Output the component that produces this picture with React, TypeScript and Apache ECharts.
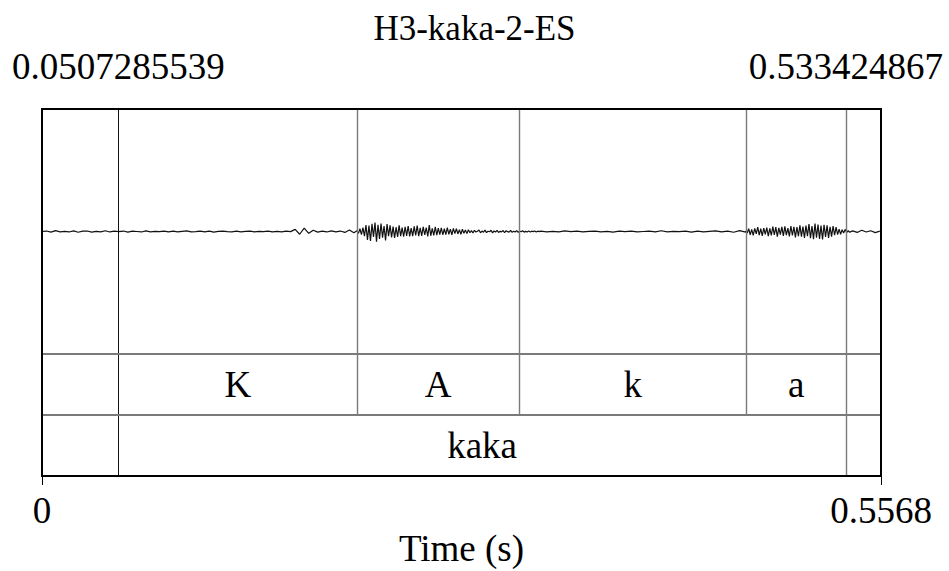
import React, { useEffect, useRef } from "react";
import * as echarts from "echarts";

// Time domain of the recording (s)
const TIME_MAX = 0.5568;
const SEL_START = 0.0507285539;
const SEL_END = 0.533424867;

// Phone tier (tier 1) and word tier (tier 2)
const phoneEdges = [SEL_START, 0.2094, 0.3165, 0.4675, SEL_END];
const phoneLabels = ["K", "A", "k", "a"];
const wordEdges = [SEL_START, SEL_END];
const wordLabels = ["kaka"];

// Waveform samples, amplitude in thousandths, grouped by stretch of signal
const waveClosure1 = [
  0, 3, -4, 6, -2, 1, -3, 4, -5, 2,
  3, -4, 1, -2, 5, -3, 2, -1, 3, -4,
  2, 0, -3, 4, -2, 1, -1, 3, -2, 2,
  -3, 1, 4, -2, -1, 3, -2, 2, -4, 1,
  3, -1, -2, 2, -3, 1, 2, -2, 1, -1,
  3, -2, 1, -3, 2, -1, 14, -18, 22, -12,
  8, -4, 2, -3, 4, -2, 3, -6, 10, -8,
];
const waveVowel1 = [
  5, -12, 18, -20, 26, -30,
  42, -55, 38, -62, 50, -35, 58, -66, 44, -48, 52, -40, 36, -58, 48, -30, 40,
  -38, 32, -42, 28, -36, 40, -30, 25, -34, 30, -28, 36, -32, 22, -30, 34, -26,
  38, -30, 24, -28, 30, -22, 26, -32, 42, -28, 20, -26, 30, -24, 22, -20,
  24, -22, 18, -20, 26, -18, 16, -22, 20, -14, 18, -16, 12, -18, 15, -12, 10,
  -14, 12, -8,
  6, -10, 8, -4, 2, 10, -8, 3, -5, 9, -7, 2, -2, 8, -9, 4, -3, 7, -6, 1, -2, 6,
  -8, 5, -1, -4, 7, -5, 2, -3, 6, -6, 3, -2, 5, -4, 1, -3, 4, -4, 2, -1, 3, -3,
  2, -1,
];
const waveClosure2 = [
  2, -3, 1, -2, 4, -1, 2, -3, 1, 3, -2, 1, -4, 2, -1, 3, -2, 0, 2, -3, 5, -2,
  1, -1, 3, -4, 2, -2, 1, 4, -3, 2, -5, 6, -4,
];
const waveVowel2 = [
  4, -10, 18, -22, 14, -26, 20, -16, 28, -24, 18, -28, 22, -18,
  26, -30, 20, -26, 32, -22, 28, -34, 24, -20, 30, -28, 34, -24, 22, -32, 36,
  -26, 30, -38, 28, -30, 40, -34, 32,
  -42, 38, -30, 48, -44, 36, -50, 52, -40, 46, -48, 38, -52, 44, -36, 40, -42,
  30, -34, 36,
  -24, 28, -20, 16, -18, 12, -10, 14, -8, 6, -5,
];
const waveTail = [4, -6, 8, -3, 5, -7, 2];

// [start time, sampling step, samples]
const waveSegments: [number, number, number[]][] = [
  [0.0, 0.003, waveClosure1],
  [0.209, 0.001, waveVowel1],
  [0.331, 0.004, waveClosure2],
  [0.467, 0.001, waveVowel2],
  [0.538, 0.003, waveTail],
];

const FONT = "Liberation Serif";
const GRID_LEFT = 42;
const GRID_WIDTH = 839;

function App() {
  const ref = useRef<HTMLDivElement>(null);

  useEffect(() => {
    document.body.style.margin = "0";
    if (!ref.current) return;
    const chart = echarts.init(ref.current, null, { renderer: "svg" });

    const wave: [number, number][] = [];
    waveSegments.forEach(([t0, step, vals]) => {
      vals.forEach((v, i) => wave.push([t0 + i * step, v / 1000]));
    });

    const grey = { color: "#7a7a7a", width: 1.4, type: "solid" as const };
    const dark = { color: "#111", width: 1, type: "solid" as const };
    const tierRule = { color: "#7a7a7a", width: 1.8, type: "solid" as const };

    const vLine = (t: number, y0: number, y1: number, style: any) => [
      { coord: [t, y0], lineStyle: style },
      { coord: [t, y1] },
    ];

    // boundaries that reach up through the sound
    const fullBounds = [SEL_START, ...phoneEdges.slice(1, -1), SEL_END];
    const soundLines = fullBounds.map((t) =>
      vLine(t, -0.8, 0.8, t === SEL_START ? dark : grey)
    );

    const tierLines: any[] = [
      vLine(SEL_START, 0, 2, dark),
      vLine(SEL_END, 0, 2, grey),
      ...phoneEdges.slice(1, -1).map((t) => vLine(t, 1, 2, grey)),
      [{ coord: [0, 1], lineStyle: tierRule }, { coord: [TIME_MAX, 1] }],
      [{ coord: [0, 2], lineStyle: tierRule }, { coord: [TIME_MAX, 2] }],
    ];

    const tierText: [number, number, string][] = [];
    phoneLabels.forEach((lab, i) =>
      tierText.push([(phoneEdges[i] + phoneEdges[i + 1]) / 2, 1.5, lab])
    );
    wordLabels.forEach((lab, i) =>
      tierText.push([(wordEdges[i] + wordEdges[i + 1]) / 2, 0.5, lab])
    );

    const labelFmt = (v: number) => String(v);

    chart.setOption({
      animation: false,
      backgroundColor: "#fff",
      title: {
        text: "H3-kaka-2-ES",
        left: "center",
        top: 6,
        textStyle: {
          fontFamily: FONT,
          fontSize: 35,
          fontWeight: "normal",
          color: "#000",
        },
      },
      grid: [
        { left: GRID_LEFT, width: GRID_WIDTH, top: 109, height: 245 },
        { left: GRID_LEFT, width: GRID_WIDTH, top: 354, height: 122 },
        {
          left: GRID_LEFT,
          width: GRID_WIDTH,
          top: 109,
          height: 367,
          show: true,
          borderColor: "#000",
          borderWidth: 2,
          backgroundColor: "transparent",
          z: 10,
        },
      ],
      xAxis: [
        {
          type: "value",
          gridIndex: 0,
          position: "top",
          min: 0,
          max: TIME_MAX,
          axisLine: { show: false },
          splitLine: { show: false },
          axisTick: {
            show: true,
            length: 10,
            customValues: [SEL_START, SEL_END],
            lineStyle: { color: "#000", width: 1 },
          },
          axisLabel: {
            show: true,
            customValues: [SEL_START, SEL_END],
            formatter: labelFmt,
            margin: 24,
            fontFamily: FONT,
            fontSize: 37,
            color: "#000",
          },
        },
        {
          type: "value",
          gridIndex: 1,
          position: "bottom",
          min: 0,
          max: TIME_MAX,
          axisLine: { show: false },
          splitLine: { show: false },
          axisTick: {
            show: true,
            length: 9,
            customValues: [0, TIME_MAX],
            lineStyle: { color: "#000", width: 1 },
          },
          axisLabel: {
            show: true,
            customValues: [0, TIME_MAX],
            formatter: labelFmt,
            margin: 16,
            fontFamily: FONT,
            fontSize: 37,
            color: "#000",
          },
          name: "Time (s)",
          nameLocation: "middle",
          nameGap: 54,
          nameTextStyle: { fontFamily: FONT, fontSize: 37, color: "#000" },
        },
        { type: "value", gridIndex: 2, min: 0, max: TIME_MAX, show: false },
      ],
      yAxis: [
        { type: "value", gridIndex: 0, min: -0.8, max: 0.8, show: false },
        { type: "value", gridIndex: 1, min: 0, max: 2, show: false },
        { type: "value", gridIndex: 2, min: 0, max: 1, show: false },
      ],
      series: [
        {
          type: "line",
          xAxisIndex: 0,
          yAxisIndex: 0,
          data: wave,
          showSymbol: false,
          silent: true,
          lineStyle: { color: "#111", width: 1.2 },
          markLine: {
            silent: true,
            symbol: ["none", "none"],
            label: { show: false },
            lineStyle: { type: "solid" },
            data: soundLines,
          },
        },
        {
          type: "scatter",
          xAxisIndex: 1,
          yAxisIndex: 1,
          symbolSize: 0,
          silent: true,
          data: tierText,
          label: {
            show: true,
            position: "inside",
            formatter: (p: any) => p.data[2],
            fontFamily: FONT,
            fontSize: 37,
            color: "#000",
            opacity: 1,
            textBorderWidth: 0,
          },
          markLine: {
            silent: true,
            symbol: ["none", "none"],
            label: { show: false },
            lineStyle: { type: "solid" },
            data: tierLines,
          },
        },
      ],
    });

    return () => chart.dispose();
  }, []);

  return <div ref={ref} style={{ width: 949, height: 571 }} />;
}

export default App;
